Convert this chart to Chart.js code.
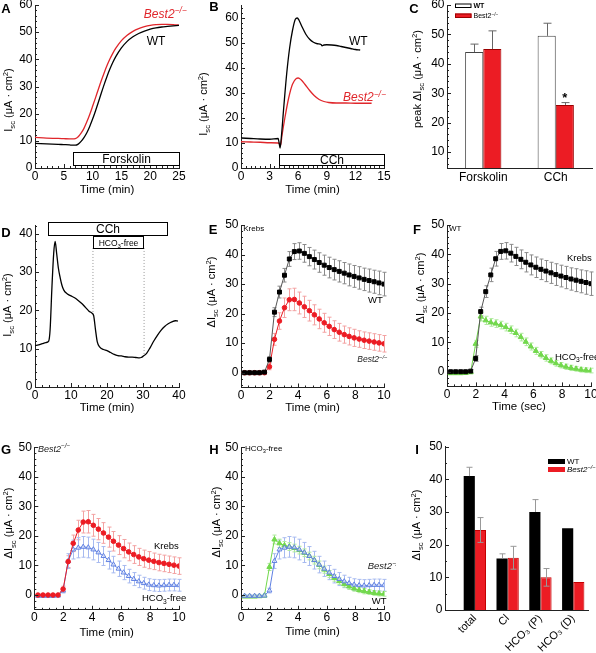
<!DOCTYPE html>
<html><head><meta charset="utf-8">
<script src="https://cdn.jsdelivr.net/npm/chart.js@4.4.1/dist/chart.umd.min.js"></script>
<style>html,body{margin:0;padding:0;background:#fff;}#fig{position:relative;width:596px;height:653px;overflow:hidden;background:#fff;}</style>
</head><body><div id="fig"></div>
<script>
// ---------- DATA ----------
// Panel A (forskolin traces)
const timeA = [0,2,4,5,6,6.5,7,7.5,8,8.5,9,9.5,10,10.5,11,11.5,12,12.5,13,13.5,14,15,16,17,18,19,20,21,22,23,24,25];
const wtA = [9.1,8.9,8.7,8.6,8.5,8.4,8.4,8.8,9.8,11.2,13,15.3,18,21,24.2,27.5,30.7,33.7,36.4,38.8,40.9,44.2,46.6,48.3,49.5,50.4,51.1,51.6,51.9,52.1,52.3,52.5];
const koA = [11.3,11.0,10.9,10.8,10.7,10.7,10.8,11.5,12.8,14.6,17,19.7,22.7,25.8,29,32.1,35,37.7,40.1,42.2,44,46.9,48.9,50.3,51.3,52,52.5,52.8,52.9,52.9,52.8,52.6];
// Panel B (CCh traces)
const timeBwt = [0,1,2,3,3.9,4.0,4.1,4.2,4.5,4.8,5.1,5.4,5.7,5.9,6.1,6.4,6.8,7.2,7.6,8,8.4,8.5,8.7,9,9.5,10,10.5,11,11.5,12,12.5];
const wtB = [12,11.8,11.6,11.5,11.8,10,8,11,25,38,48,55,59.5,60,59,56.5,53.5,51.5,50.3,49.7,49.4,48.9,49.2,49.3,49.2,49,48.6,48.2,47.8,47.4,47.2];
const timeBko = [0,1,2,3,3.9,4.05,4.15,4.3,4.6,5,5.4,5.8,6,6.3,6.7,7.2,7.7,8.2,8.7,9.2,10,11,12,13,13.7];
const koB = [10.5,10.4,10.3,10.1,10,9.6,9,13,20,28,33.5,35.8,36,35.3,33.5,31,28.9,27.4,26.6,26.2,26,26,25.9,25.9,25.9];
// Panel C (peak bars)
const catsC = ['Forskolin','CCh'];
const wtC = [44, 49.5];
const wtCErr = [2.7, 4.3];
const koC = [45, 26];
const koCErr = [6.2, 0.8];
// Panel D (CCh + HCO3-free trace)
const timeD = [0,1,2,3,3.8,4.2,4.7,5.2,5.6,6,6.5,7,7.5,8,9,10,11,12,13,14,15,15.8,16.3,16.8,17.3,18,19,20,21,22,23,24,25,26,27,28,29,29.5,30,31,32,33,34,35,36,37,38,39,39.7];
const valD = [10.8,11,11.3,11.6,12,15,26,35,38,35,31,28.5,26.5,25.3,24.3,23.8,23.3,22.6,21.8,20.8,19.8,19.3,18.6,15,11.8,10.4,9.8,9.5,9,8.5,8.2,8.1,7.9,7.8,7.8,7.7,7.6,7.7,8,8.8,10.3,12,13.5,14.8,15.8,16.5,17,17.3,17.2];
const freeStartD = 16.1, freeEndD = 30.3;
const freeLevelStart = 18.9, freeLevelEnd = 8.3;
// Panels E-H (mean traces with SEM)
const timeCCh = [0.25,0.6,0.95,1.29,1.64,1.99,2.34,2.69,3.04,3.38,3.73,4.08,4.43,4.78,5.13,5.47,5.82,6.17,6.52,6.87,7.22,7.56,7.91,8.26,8.61,8.96,9.31,9.65,10.0];
const wtKrebs = [0,0,0,0,0.2,4.5,20.5,27.3,33,38.5,41,41.2,40.4,39.3,38.3,37.3,36.4,35.6,34.9,34.3,33.7,33.1,32.6,32.1,31.6,31.2,30.8,30.4,30];
const wtKrebsErr = [0.4,0.4,0.4,0.4,0.5,1,1.5,2,2.3,2.5,2.7,2.8,3,3.1,3.2,3.3,3.4,3.5,3.5,3.6,3.6,3.7,3.7,3.8,3.8,3.9,3.9,4,4];
const koKrebs = [0,0,0,0,0,2,11.3,17.5,22,24.7,24.8,23.6,22.3,21,19.6,18.2,16.9,15.7,14.6,13.7,12.9,12.3,11.8,11.4,11,10.7,10.4,10.1,9.8];
const koKrebsErr = [0.4,0.4,0.4,0.4,0.4,1,2,2.8,3.3,3.7,3.8,3.7,3.6,3.5,3.4,3.3,3.2,3.1,3,3,2.9,2.9,2.9,2.8,2.8,2.8,2.8,2.8,2.8];
const wtFree = [-0.5,-0.5,-0.5,-0.4,-0.2,9.5,18.8,17.5,16.8,16.4,15.9,15.2,14.3,13.2,11.8,10.2,8.6,7.1,5.8,4.7,3.7,2.9,2.2,1.7,1.3,1,0.7,0.5,0.4];
const wtFreeErr = [0.4,0.4,0.4,0.4,0.4,1.2,1.5,1.4,1.3,1.3,1.3,1.3,1.3,1.3,1.3,1.3,1.2,1.2,1.1,1.1,1,1,0.9,0.9,0.9,0.8,0.8,0.8,0.8];
const koFree = [-0.3,-0.3,-0.3,-0.3,-0.2,1.5,11.5,15.4,16,16.3,16.1,15.4,14.4,13.2,11.8,10.3,8.9,7.6,6.4,5.4,4.6,4,3.5,3.3,3.2,3.3,3.4,3.4,3.3];
const koFreeErr = [0.4,0.4,0.4,0.4,0.4,0.8,2.5,3.2,3.4,3.5,3.5,3.5,3.4,3.2,3,2.8,2.6,2.4,2.3,2.2,2.1,2,2,2,2,2,2,2,2];
// Panel I (components)
const catsI = ['total','Cl','HCO\u2083 (P)','HCO\u2083 (D)'];
const posI = [0,1,2,3];
const wtI = [41, 15.8, 30, 25];
const wtIErr = [2.7, 1.4, 3.8, 0];
const koI = [24.5, 16, 10, 8.6];
const koIErr = [3.8, 3.5, 2.7, 0];
// Tick labels
const ticksA_x = [0,5,10,15,20,25], ticksA_y = [0,10,20,30,40,50,60];
const ticksB_x = [0,3,6,9,12,15], ticksB_y = [0,10,20,30,40,50,60];
const ticksC_y = [10,20,30,40,50,60];
const ticksD_x = [0,10,20,30,40], ticksD_y = [0,10,20,30,40];
const ticksT_x = [0,2,4,6,8,10], ticksT_y = [0,10,20,30,40,50];
const ticksI_y = [0,10,20,30,40,50];

// ---------- STYLE / LAYOUT ----------
const FONT = '"Liberation Sans", Arial, Helvetica, sans-serif';
const AX = '#222', RED = '#ec1c24', LRED = '#e0262b', GREEN = '#72d84c', BLUE = '#5f80e2';
Chart.defaults.font.family = FONT;
Chart.defaults.color = '#000';

const P = {
  A: {c:[0,0,198,215],   p:[35,5,179,168]},
  B: {c:[198,0,198,215], p:[241,5,384,168]},
  C: {c:[396,0,200,215], p:[447,5,592,168]},
  D: {c:[0,215,198,215], p:[35,225,179,387]},
  E: {c:[198,215,198,215], p:[241,225,384,387.5]},
  F: {c:[396,215,200,215], p:[447,225,591,386.4]},
  G: {c:[0,430,198,223], p:[34.3,447.3,179,609.8]},
  H: {c:[198,430,198,223], p:[241,447.3,384,609.8]},
  I: {c:[396,430,200,223], p:[445,446.7,588,610]}
};
const DECO = {};

function parseRich(s) {
  const segs = []; let buf = ''; let i = 0;
  while (i < s.length) {
    const c = s[i];
    if ((c === '_' || c === '^') && s[i + 1] === '{') {
      if (buf) { segs.push({t: buf, m: 0}); buf = ''; }
      const j = s.indexOf('}', i);
      segs.push({t: s.slice(i + 2, j), m: c === '_' ? -1 : 1});
      i = j + 1;
    } else { buf += c; i++; }
  }
  if (buf) segs.push({t: buf, m: 0});
  return segs;
}
function drawRich(ctx, s, x, y, o) {
  o = o || {};
  const size = o.size || 12;
  const style = (o.italic ? 'italic ' : '') + (o.bold ? 'bold ' : '');
  const fontFor = m => style + (m ? size * 0.7 : size) + 'px ' + FONT;
  const segs = parseRich(s);
  let w = 0;
  segs.forEach(g => { ctx.font = fontFor(g.m); g.w = ctx.measureText(g.t).width; w += g.w; });
  ctx.save();
  ctx.translate(x, y);
  if (o.rotate) ctx.rotate(o.rotate);
  let cx = o.align === 'left' ? 0 : (o.align === 'right' ? -w : -w / 2);
  ctx.fillStyle = o.color || '#000';
  ctx.textBaseline = 'alphabetic';
  const base = size * 0.36;
  segs.forEach(g => {
    ctx.font = fontFor(g.m);
    const dy = g.m === -1 ? size * 0.28 : (g.m === 1 ? -size * 0.38 : 0);
    ctx.fillText(g.t, cx, base + dy);
    cx += g.w;
  });
  ctx.restore();
}
function inTicks(ctx, scale, major, minor, horiz, a) {
  const lo = scale.min, hi = scale.max;
  for (let k = Math.ceil(lo / minor - 1e-9); k * minor <= hi + 1e-9; k++) {
    const v = k * minor, r = v / major;
    const len = Math.abs(r - Math.round(r)) < 1e-6 ? 4 : 2;
    const p = Math.round(scale.getPixelForValue(v)) + 0.5;
    if (horiz) { ctx.moveTo(p, a.bottom); ctx.lineTo(p, a.bottom - len); }
    else { ctx.moveTo(a.left, p); ctx.lineTo(a.left + len, p); }
  }
}
function drawErrors(chart) {
  const ctx = chart.ctx;
  chart.data.datasets.forEach((ds, i) => {
    if (!ds.errors) return;
    const meta = chart.getDatasetMeta(i);
    const ys = chart.scales[meta.yAxisID];
    const cap = ds.errCap || 2;
    ctx.save();
    ctx.strokeStyle = ds.errColor || '#888'; ctx.lineWidth = 1;
    ctx.beginPath();
    meta.data.forEach((el, j) => {
      const e = ds.errors[j]; if (!e) return;
      const d = ds.data[j]; const v = typeof d === 'object' ? d.y : d;
      const x = Math.round(el.x) + 0.5;
      const yt = ys.getPixelForValue(v + e);
      const yb = ds.errUp ? el.y : ys.getPixelForValue(v - e);
      ctx.moveTo(x, yt); ctx.lineTo(x, yb);
      ctx.moveTo(x - cap, yt); ctx.lineTo(x + cap, yt);
      if (!ds.errUp) { ctx.moveTo(x - cap, yb); ctx.lineTo(x + cap, yb); }
    });
    ctx.stroke();
    ctx.restore();
  });
}
const decoPlugin = {
  id: 'deco',
  beforeDatasetsDraw(chart) { const d = DECO[chart.canvas.id]; if (d && !d.errAfter) drawErrors(chart); },
  afterDatasetsDraw(chart) { const d = DECO[chart.canvas.id]; if (d && d.errAfter) drawErrors(chart); },
  afterDraw(chart) {
    const d = DECO[chart.canvas.id]; if (!d) return;
    const ctx = chart.ctx, a = chart.chartArea, sx = chart.scales.x, sy = chart.scales.y;
    const ox = P[d.key].c[0], oy = P[d.key].c[1];
    ctx.save();
    ctx.strokeStyle = AX; ctx.lineWidth = 1; ctx.beginPath();
    if (d.xt) inTicks(ctx, sx, d.xt[0], d.xt[1], true, a);
    if (d.yt) inTicks(ctx, sy, d.yt[0], d.yt[1], false, a);
    ctx.stroke();
    (d.boxes || []).forEach(b => {
      const x1 = Math.round(sx.getPixelForValue(b.x1)) + 0.5, x2 = Math.round(sx.getPixelForValue(b.x2)) + 0.5;
      const y1 = Math.round(sy.getPixelForValue(b.y2)) + 0.5, y2 = Math.round(sy.getPixelForValue(b.y1)) + 0.5;
      ctx.fillStyle = '#fff'; ctx.fillRect(x1, y1, x2 - x1, y2 - y1);
      ctx.strokeStyle = '#000'; ctx.lineWidth = 1; ctx.strokeRect(x1, y1, x2 - x1, y2 - y1);
      drawRich(ctx, b.t, (x1 + x2) / 2, (y1 + y2) / 2, {size: b.size});
    });
    (d.legend || []).forEach(l => {
      ctx.fillStyle = l.fill; ctx.fillRect(l.x1 - ox, l.y1 - oy, l.x2 - l.x1, l.y2 - l.y1);
      if (l.stroke) { ctx.strokeStyle = l.stroke; ctx.lineWidth = 1; ctx.strokeRect(l.x1 - ox + 0.5, l.y1 - oy + 0.5, l.x2 - l.x1 - 1, l.y2 - l.y1 - 1); }
      drawRich(ctx, l.t, l.x2 - ox + 2, (l.y1 + l.y2) / 2 - oy, {size: l.size, align: 'left', italic: l.italic, bold: l.bold});
    });
    (d.texts || []).forEach(t => drawRich(ctx, t.t, sx.getPixelForValue(t.x), sy.getPixelForValue(t.y),
      {size: t.size, align: t.align || 'left', color: t.color, italic: t.italic}));
    if (d.star) {
      const el = chart.getDatasetMeta(d.star.bar[0]).data[d.star.bar[1]];
      drawRich(ctx, '*', el.x, sy.getPixelForValue(d.star.y), {size: 13, bold: true});
    }
    if (d.ytitle) drawRich(ctx, d.ytitle.t, d.ytitle.px - ox, d.ytitle.py - oy, {size: d.ytitle.size || 11, rotate: -Math.PI / 2});
    if (d.letter) drawRich(ctx, d.letter.t, d.letter.px - ox, d.letter.py - oy, {size: 13, bold: true});
    ctx.restore();
  }
};

function opts(key, xs, ys) {
  const [cx, cy, cw, ch] = P[key].c; const [L, T, R, B] = P[key].p;
  const x = {
    type: xs.type || 'linear', offset: xs.type === 'category',
    grid: {display: false, drawTicks: false},
    border: {display: true, color: AX, width: 1},
    ticks: Object.assign({padding: 1, color: '#000', font: {size: 12}, maxRotation: 0, autoSkip: false}, xs.ticks || {}),
    afterFit: s => { s.height = cy + ch - B; s.paddingLeft = 0; s.paddingRight = 0; }
  };
  if (x.type === 'linear') {
    x.min = xs.min; x.max = xs.max; x.bounds = 'data';
    x.afterBuildTicks = s => { s.ticks = xs.values.map(v => ({value: v})); };
  }
  if (xs.title) x.title = {display: true, text: xs.title, color: '#000', font: {size: 11.5},
    padding: {top: 0, bottom: cy + ch - xs.titleY - 6.9}};
  const y = {
    type: 'linear', min: ys.min, max: ys.max, bounds: 'data',
    grid: {display: false, drawTicks: false},
    border: {display: true, color: AX, width: 1},
    ticks: {padding: 2.5, color: '#000', font: {size: 12}},
    afterBuildTicks: s => { s.ticks = ys.values.map(v => ({value: v})); },
    afterFit: s => { s.width = L - cx; s.paddingTop = 0; s.paddingBottom = 0; }
  };
  return {
    animation: false, responsive: false, maintainAspectRatio: false, devicePixelRatio: 1,
    layout: {padding: {left: 0, top: T - cy, right: cx + cw - R, bottom: 0}},
    plugins: {legend: {display: false}, tooltip: {enabled: false}},
    scales: {x, y}
  };
}
function make(key, type, datasets, labels, xs, ys, deco) {
  const [cx, cy, cw, ch] = P[key].c;
  const cv = document.createElement('canvas');
  cv.id = 'c' + key; cv.width = cw; cv.height = ch;
  cv.style.cssText = 'position:absolute;left:' + cx + 'px;top:' + cy + 'px;width:' + cw + 'px;height:' + ch + 'px';
  document.getElementById('fig').appendChild(cv);
  DECO[cv.id] = Object.assign({key}, deco);
  const data = {datasets}; if (labels) data.labels = labels;
  return new Chart(cv, {type, data, options: opts(key, xs, ys), plugins: [decoPlugin]});
}
const pts = (ts, vs) => ts.map((t, i) => ({x: t, y: vs[i]}));
const trace = (ts, vs, color) => ({data: pts(ts, vs), borderColor: color, borderWidth: 1.3, pointRadius: 0, cubicInterpolationMode: 'monotone', fill: false});
const ST = {
  wt: {borderColor: '#555', pointStyle: 'rect', pointRadius: 2.8, pointBackgroundColor: '#000', pointBorderColor: '#000', errColor: '#8a8a8a'},
  ko: {borderColor: RED, pointStyle: 'circle', pointRadius: 2.3, pointBackgroundColor: RED, pointBorderColor: RED, errColor: '#f3a2a2'},
  wtFree: {borderColor: GREEN, pointStyle: 'triangle', pointRadius: 3, pointBackgroundColor: GREEN, pointBorderColor: GREEN, errColor: '#aeea9c'},
  koFree: {borderColor: BLUE, pointStyle: 'triangle', pointRadius: 2.8, pointBackgroundColor: 'rgba(255,255,255,0.6)', pointBorderColor: BLUE, errColor: '#a7baf0'}
};
const series = (vs, errs, st) => Object.assign({data: pts(timeCCh, vs), errors: errs, borderWidth: 1, tension: 0, pointBorderWidth: 1, fill: false}, st);
const yT = {min: -5, max: 50, values: ticksT_y};
const xT = {min: 0, max: 10, values: ticksT_x, title: 'Time (min)'};
const KO = 'Best2^{\u2212/\u2212}';
const DI = '\u0394I_{sc} (\u03bcA \u00b7 cm^{2})';

// A
make('A', 'line', [trace(timeA, wtA, '#000'), trace(timeA, koA, LRED)], null,
  {min: 0, max: 25, values: ticksA_x, title: 'Time (min)', titleY: 190}, {min: 0, max: 60, values: ticksA_y},
  {xt: [5, 1], yt: [10, 2], letter: {t: 'A', px: 6, py: 8}, ytitle: {t: 'I_{sc} (\u03bcA \u00b7 cm^{2})', px: 8, py: 100},
   texts: [{t: KO, x: 18.9, y: 56.9, size: 12, color: LRED, italic: true}, {t: 'WT', x: 19.4, y: 46.7, size: 12}],
   boxes: [{x1: 6.6, x2: 25, y1: 1.1, y2: 5.9, t: 'Forskolin', size: 12}]});
// B
make('B', 'line', [trace(timeBwt, wtB, '#000'), trace(timeBko, koB, LRED)], null,
  {min: 0, max: 15, values: ticksB_x, title: 'Time (min)', titleY: 190}, {min: 0, max: 65.2, values: ticksB_y},
  {xt: [3, 0.5], yt: [10, 2], letter: {t: 'B', px: 214, py: 6}, ytitle: {t: 'I_{sc} (\u03bcA \u00b7 cm^{2})', px: 203, py: 104},
   texts: [{t: 'WT', x: 11.33, y: 50.8, size: 12}, {t: KO, x: 10.7, y: 28.4, size: 12, color: LRED, italic: true}],
   boxes: [{x1: 4.0, x2: 15, y1: 1.2, y2: 5.6, t: 'CCh', size: 12}]});
// C
make('C', 'bar', [
  {data: wtC, backgroundColor: '#fff', borderColor: '#444', borderWidth: 1, categoryPercentage: 0.5, barPercentage: 1, errors: wtCErr, errUp: true, errColor: '#666', errCap: 4},
  {data: koC, backgroundColor: RED, borderColor: '#9a0000', borderWidth: 1, categoryPercentage: 0.5, barPercentage: 1, errors: koCErr, errUp: true, errColor: '#666', errCap: 4}
], catsC, {type: 'category', ticks: {padding: 2}}, {min: 4.55, max: 60, values: ticksC_y},
  {yt: [10, 2], errAfter: true, letter: {t: 'C', px: 414, py: 8}, ytitle: {t: 'peak \u0394I_{sc} (\u03bcA \u00b7 cm^{2})', px: 417, py: 79},
   star: {bar: [1, 1], y: 28.7},
   legend: [{x1: 455, y1: 3.5, x2: 471.5, y2: 8, fill: '#fff', stroke: '#000', t: 'WT', size: 7, bold: true},
            {x1: 455, y1: 13.5, x2: 471.5, y2: 18, fill: RED, stroke: '#9a0000', t: KO, size: 7}]});
// D
make('D', 'line', [
  trace(timeD, valD, '#000'),
  {data: [{x: freeStartD, y: 36.3}, {x: freeStartD, y: freeLevelStart}], borderColor: '#999', borderWidth: 1, borderDash: [1, 2], pointRadius: 0},
  {data: [{x: freeEndD, y: 36.3}, {x: freeEndD, y: freeLevelEnd}], borderColor: '#999', borderWidth: 1, borderDash: [1, 2], pointRadius: 0}
], null, {min: 0, max: 40, values: ticksD_x, title: 'Time (min)', titleY: 408}, {min: 0, max: 42.3, values: ticksD_y},
  {xt: [10, 2], yt: [10, 2], letter: {t: 'D', px: 6, py: 232}, ytitle: {t: 'I_{sc} (\u03bcA \u00b7 cm^{2})', px: 7, py: 305},
   boxes: [{x1: 3.6, x2: 36.7, y1: 39.7, y2: 43.1, t: 'CCh', size: 12}, {x1: 16.1, x2: 30, y1: 36.3, y2: 39.4, t: 'HCO_{3}-free', size: 8.5}]});
// E
make('E', 'line', [series(wtKrebs, wtKrebsErr, ST.wt), series(koKrebs, koKrebsErr, ST.ko)], null,
  Object.assign({}, xT, {titleY: 408}), yT,
  {xt: [2, 0.5], yt: [10, 2], letter: {t: 'E', px: 213, py: 229}, ytitle: {t: DI, px: 211, py: 292},
   texts: [{t: 'Krebs', x: 0.16, y: 49, size: 8}, {t: 'WT', x: 8.88, y: 24.8, size: 9.5},
           {t: KO, x: 10.25, y: 4.6, size: 8.5, italic: true, color: '#222', align: 'right'}]});
// F
make('F', 'line', [series(wtKrebs, wtKrebsErr, ST.wt), series(wtFree, wtFreeErr, ST.wtFree)], null,
  Object.assign({}, xT, {title: 'Time (sec)', titleY: 406.7}), yT,
  {xt: [2, 0.5], yt: [10, 2], letter: {t: 'F', px: 417, py: 229}, ytitle: {t: DI, px: 420, py: 288},
   texts: [{t: 'WT', x: 0.14, y: 48.9, size: 8}, {t: 'Krebs', x: 8.33, y: 38.9, size: 9.5}, {t: 'HCO_{3}-free', x: 7.5, y: 5.3, size: 9.5}]});
// G
make('G', 'line', [series(koKrebs, koKrebsErr, ST.ko), series(koFree, koFreeErr, ST.koFree)], null,
  Object.assign({}, xT, {titleY: 633}), yT,
  {xt: [2, 0.5], yt: [10, 2], letter: {t: 'G', px: 6, py: 449}, ytitle: {t: DI, px: 8.5, py: 523},
   texts: [{t: KO, x: 0.26, y: 49.6, size: 9, italic: true, color: '#222'}, {t: 'Krebs', x: 8.27, y: 16.9, size: 9.5}, {t: 'HCO_{3}-free', x: 7.44, y: -1, size: 9.5}]});
// H
make('H', 'line', [series(koFree, koFreeErr, ST.koFree), series(wtFree, wtFreeErr, ST.wtFree)], null,
  Object.assign({}, xT, {titleY: 631.7}), yT,
  {xt: [2, 0.5], yt: [10, 2], letter: {t: 'H', px: 214, py: 449}, ytitle: {t: DI, px: 216, py: 522},
   texts: [{t: 'HCO_{3}-free', x: 0.28, y: 49.8, size: 8}, {t: KO, x: 8.86, y: 9.8, size: 9.5, italic: true, color: '#222'}, {t: 'WT', x: 9.14, y: -2, size: 9.5}]});
// I
make('I', 'bar', [
  {data: pts(posI, wtI), backgroundColor: '#000', borderWidth: 0, categoryPercentage: 0.68, barPercentage: 1, errors: wtIErr, errUp: true, errColor: '#999', errCap: 3},
  {data: pts(posI, koI), backgroundColor: RED, borderColor: '#c40000', borderWidth: 1, categoryPercentage: 0.68, barPercentage: 1, errors: koIErr, errColor: '#999', errCap: 3}
], null, {min: -0.91, max: 3.45, values: posI, ticks: {padding: 2, font: {size: 11}, minRotation: 45, maxRotation: 45, callback: v => catsI[v]}},
  {min: 0, max: 50, values: ticksI_y},
  {yt: [10, 5], errAfter: true, letter: {t: 'I', px: 417, py: 449}, ytitle: {t: DI, px: 416, py: 525},
   legend: [{x1: 548, y1: 459, x2: 565, y2: 464, fill: '#000', t: 'WT', size: 8},
            {x1: 548, y1: 467, x2: 565, y2: 472, fill: RED, t: KO, size: 8, italic: true}]});
</script></body></html>
